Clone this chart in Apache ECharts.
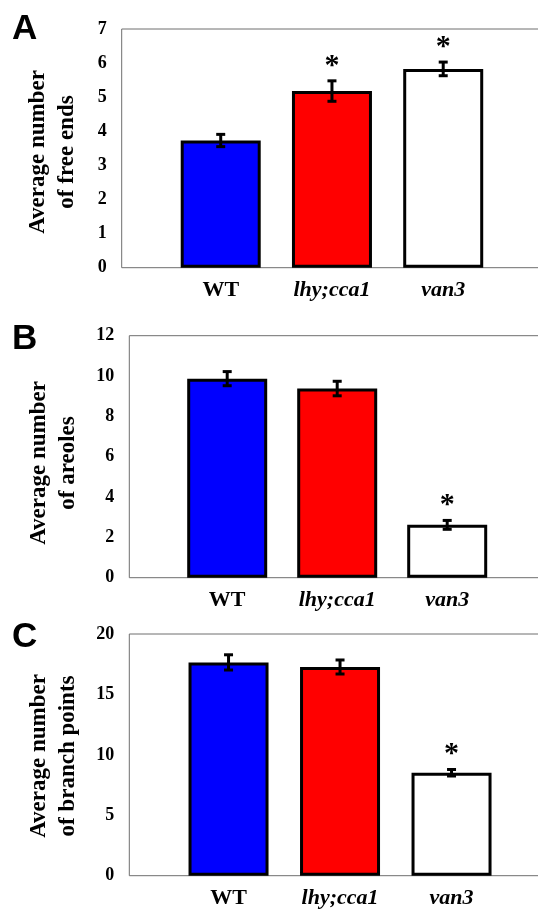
<!DOCTYPE html>
<html>
<head>
<meta charset="utf-8">
<script src="https://cdn.jsdelivr.net/npm/echarts@6/dist/echarts.min.js"></script>
<style>
html,body{margin:0;padding:0;background:#fff;}
#chart{width:538px;height:914px;}
</style>
</head>
<body>
<div id="chart"></div>
<script>
// ---- data ----
var categories = ['WT', 'lhy;cca1', 'van3'];
var italicCategory = [false, true, true];

var freeEnds = [3.73, 5.18, 5.83];
var freeEndsErr = [0.18, 0.30, 0.20];
var freeEndsSig = [false, true, true];

var areoles = [9.87, 9.38, 2.62];
var areolesErr = [0.35, 0.36, 0.22];
var areolesSig = [false, false, true];

var branchPoints = [17.65, 17.27, 8.52];
var branchPointsErr = [0.63, 0.58, 0.27];
var branchPointsSig = [false, false, true];

var panelLetters = ['A', 'B', 'C'];
var yTitles = ['Average number\nof free ends', 'Average number\nof areoles', 'Average number\nof branch points'];
var yMax = [7, 12, 20];
var yInterval = [1, 2, 5];

// ---- build ----
var panels = [
  {vals: freeEnds, err: freeEndsErr, sig: freeEndsSig},
  {vals: areoles, err: areolesErr, sig: areolesSig},
  {vals: branchPoints, err: branchPointsErr, sig: branchPointsSig}
];
var barColors = ['#0000ff', '#ff0000', '#ffffff'];
var gridDefs = [
  {left: 121.7, top: 29, height: 238.7, width: 445},
  {left: 129.3, top: 335.7, height: 242, width: 440},
  {left: 129.3, top: 634, height: 241.7, width: 446}
];
var titlePos = [[53, 152], [53.3, 463], [53.5, 756]];
var letterPos = [[12, 29], [12, 339], [12, 637]];
var serif = '"Liberation Serif","Times New Roman",serif';

var grids = [], xAxes = [], yAxes = [], series = [], graphics = [];
panels.forEach(function (p, i) {
  grids.push({left: gridDefs[i].left, top: gridDefs[i].top, height: gridDefs[i].height, width: gridDefs[i].width,
    outerBoundsMode: 'none', containLabel: false,
    show: true, borderColor: '#6e6e6e', borderWidth: 1, backgroundColor: 'transparent'});
  xAxes.push({
    gridIndex: i, type: 'value', min: 0.11, max: 4.11,
    axisLine: {show: false}, axisTick: {show: false}, splitLine: {show: false},
    axisLabel: {
      customValues: [1, 2, 3],
      margin: 12,
      formatter: function (v) {
        var k = Math.round(v) - 1;
        if (k < 0 || k >= categories.length) return '';
        return '{' + (italicCategory[k] ? 'i' : 'n') + '|' + categories[k] + '}';
      },
      rich: {
        n: {fontFamily: serif, fontWeight: 'bold', fontSize: 22, color: '#000'},
        i: {fontFamily: serif, fontWeight: 'bold', fontStyle: 'italic', fontSize: 22, color: '#000'}
      }
    }
  });
  yAxes.push({
    gridIndex: i, type: 'value', min: 0, max: yMax[i], interval: yInterval[i],
    axisLine: {show: false}, axisTick: {show: false}, splitLine: {show: false},
    axisLabel: {fontFamily: serif, fontWeight: 'bold', fontSize: 18, color: '#000', margin: 15, padding: [6, 0, 0, 0]}
  });
  series.push({
    type: 'bar', xAxisIndex: i, yAxisIndex: i, barWidth: 80,
    data: p.vals.map(function (v, k) {
      return {value: [k + 1, v], itemStyle: {color: barColors[k]}};
    }),
    itemStyle: {borderColor: '#000', borderWidth: 3},
    emphasis: {disabled: true},
    z: 2
  });
  series.push({
    type: 'custom', xAxisIndex: i, yAxisIndex: i, z: 5,
    data: p.vals.map(function (v, k) { return [k + 1, v, p.err[k], p.sig[k] ? 1 : 0]; }),
    renderItem: function (params, api) {
      var x = api.value(0), m = api.value(1), e = api.value(2), s = api.value(3);
      var hi = api.coord([x, m + e]), lo = api.coord([x, m - e]);
      var cw = 4.5;
      var st = {stroke: '#000', lineWidth: 3};
      var children = [
        {type: 'line', shape: {x1: hi[0], y1: hi[1], x2: lo[0], y2: lo[1]}, style: st},
        {type: 'line', shape: {x1: hi[0] - cw, y1: hi[1], x2: hi[0] + cw, y2: hi[1]}, style: st},
        {type: 'line', shape: {x1: lo[0] - cw, y1: lo[1], x2: lo[0] + cw, y2: lo[1]}, style: st}
      ];
      if (s) {
        children.push({type: 'text', x: hi[0], y: hi[1] - 15,
          style: {text: '*', font: 'bold 30px ' + serif, fill: '#000', align: 'center', verticalAlign: 'middle'}});
      }
      return {type: 'group', children: children};
    }
  });
  graphics.push({
    type: 'text', x: titlePos[i][0], y: titlePos[i][1], rotation: Math.PI / 2,
    style: {text: yTitles[i], font: 'bold 23px ' + serif, fill: '#000', textAlign: 'center', textVerticalAlign: 'middle', lineHeight: 29}
  });
  graphics.push({
    type: 'text', x: letterPos[i][0], y: letterPos[i][1],
    style: {text: panelLetters[i], font: 'bold 35px "Liberation Sans", Arial, sans-serif', fill: '#000', textAlign: 'left', textVerticalAlign: 'middle'}
  });
});

var chart = echarts.init(document.getElementById('chart'), null, {renderer: 'canvas'});
chart.setOption({
  animation: false,
  backgroundColor: '#fff',
  grid: grids, xAxis: xAxes, yAxis: yAxes, series: series, graphic: graphics
});
</script>
</body>
</html>
